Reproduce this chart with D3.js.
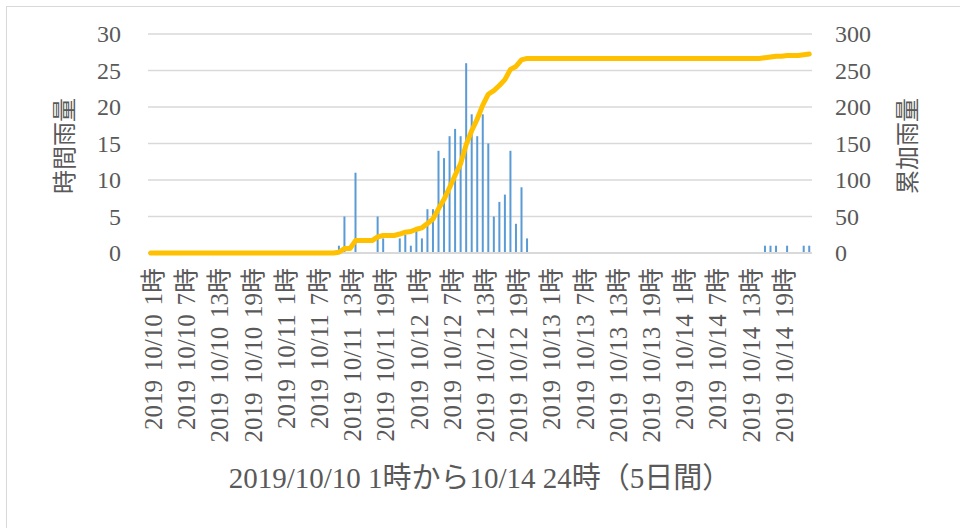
<!DOCTYPE html>
<html>
<head>
<meta charset="utf-8">
<script src="https://cdn.jsdelivr.net/npm/d3@7"></script>
<style>
  body { margin: 0; background: #fff; }
  text { font-family: "Liberation Serif", "Noto Sans CJK JP", serif; fill: #595959; }
</style>
</head>
<body>
<div id="chart"></div>
<script>
// カテゴリ（日付・時刻）
const days = ["10/10", "10/11", "10/12", "10/13", "10/14"];
const hours = d3.range(1, 25);
const categories = [];
days.forEach(d => hours.forEach(h => categories.push(`2019 ${d} ${h}時`)));

// 時間雨量 (mm)
const hourlyRain = [
  0, 0, 0, 0, 0, 0, 0, 0, 0, 0, 0, 0, 0, 0, 0, 0, 0, 0, 0, 0, 0, 0, 0, 0,
  0, 0, 0, 0, 0, 0, 0, 0, 0, 0, 1, 5, 0, 11, 0, 0, 0, 5, 2, 0, 0, 2, 2.5, 1,
  3, 2, 6, 6, 14, 13, 16, 17, 16, 26, 19, 16, 19, 15, 5, 7, 8, 14, 4, 9, 2, 0, 0, 0,
  0, 0, 0, 0, 0, 0, 0, 0, 0, 0, 0, 0, 0, 0, 0, 0, 0, 0, 0, 0, 0, 0, 0, 0,
  0, 0, 0, 0, 0, 0, 0, 0, 0, 0, 0, 0, 0, 0, 0, 1, 1, 1, 0, 1, 0, 0, 1, 1
];

// 累加雨量 (mm)
const cumulativeRain = [
  0, 0, 0, 0, 0, 0, 0, 0, 0, 0, 0, 0, 0, 0, 0, 0, 0, 0, 0, 0, 0, 0, 0, 0,
  0, 0, 0, 0, 0, 0, 0, 0, 0, 0, 1, 6, 6, 17, 17, 17, 17, 22, 24, 24, 24, 26, 28.5, 29.5,
  32.5, 34.5, 40.5, 46.5, 60.5, 73.5, 89.5, 106.5, 122.5, 148.5, 167.5, 183.5, 202.5, 217.5, 222.5, 229.5, 237.5, 251.5, 255.5, 264.5, 266.5, 266.5, 266.5, 266.5,
  266.5, 266.5, 266.5, 266.5, 266.5, 266.5, 266.5, 266.5, 266.5, 266.5, 266.5, 266.5, 266.5, 266.5, 266.5, 266.5, 266.5, 266.5, 266.5, 266.5, 266.5, 266.5, 266.5, 266.5,
  266.5, 266.5, 266.5, 266.5, 266.5, 266.5, 266.5, 266.5, 266.5, 266.5, 266.5, 266.5, 266.5, 266.5, 266.5, 267.5, 268.5, 269.5, 269.5, 270.5, 270.5, 270.5, 271.5, 272.5
];

const leftTicks = [0, 5, 10, 15, 20, 25, 30];
const rightTicks = [0, 50, 100, 150, 200, 250, 300];
const labelEvery = 6;

const W = 960, H = 528;
const plot = { left: 148, right: 812, top: 34, bottom: 253 };

const svg = d3.select("#chart").append("svg")
  .attr("width", W).attr("height", H);

// 外枠
svg.append("rect")
  .attr("x", 6.5).attr("y", 6.5)
  .attr("width", W).attr("height", H)
  .attr("fill", "none").attr("stroke", "#d9d9d9");

const x = d3.scaleBand().domain(categories).range([plot.left, plot.right]).padding(0);
const cx = c => x(c) + x.bandwidth() / 2;
const yL = d3.scaleLinear().domain([0, 30]).range([plot.bottom, plot.top]);
const yR = d3.scaleLinear().domain([0, 300]).range([plot.bottom, plot.top]);

// グリッド線
svg.append("g").selectAll("line")
  .data(leftTicks.filter(t => t > 0))
  .join("line")
  .attr("x1", plot.left).attr("x2", plot.right)
  .attr("y1", d => yL(d)).attr("y2", d => yL(d))
  .attr("stroke", "#d9d9d9").attr("stroke-width", 1.5);

// 棒（時間雨量）
const barW = 2;
svg.append("g").selectAll("rect")
  .data(hourlyRain.map((v, i) => ({ c: categories[i], v })).filter(d => d.v > 0))
  .join("rect")
  .attr("x", d => cx(d.c) - barW / 2)
  .attr("width", barW)
  .attr("y", d => yL(d.v))
  .attr("height", d => yL(0) - yL(d.v))
  .attr("fill", "#5b9bd5");

// ゼロ線
svg.append("line")
  .attr("x1", plot.left).attr("x2", plot.right)
  .attr("y1", yL(0)).attr("y2", yL(0))
  .attr("stroke", "#d9d9d9").attr("stroke-width", 2);

// 折れ線（累加雨量）
const line = d3.line()
  .x((d, i) => cx(categories[i]))
  .y(d => yR(d));
svg.append("path")
  .datum(cumulativeRain)
  .attr("d", line)
  .attr("fill", "none")
  .attr("stroke", "#ffc000")
  .attr("stroke-width", 5)
  .attr("stroke-linejoin", "round")
  .attr("stroke-linecap", "round");

// 左軸ラベル
svg.append("g").selectAll("text")
  .data(leftTicks)
  .join("text")
  .attr("x", 121).attr("y", d => yL(d))
  .attr("dy", "0.35em")
  .attr("text-anchor", "end")
  .attr("font-size", "24px")
  .text(d => d);

// 右軸ラベル
svg.append("g").selectAll("text")
  .data(rightTicks)
  .join("text")
  .attr("x", 835).attr("y", d => yR(d))
  .attr("dy", "0.35em")
  .attr("text-anchor", "start")
  .attr("font-size", "24px")
  .text(d => d);

// X軸ラベル（6時間ごと）
svg.append("g").selectAll("text")
  .data(categories.filter((c, i) => i % labelEvery === 0))
  .join("text")
  .attr("transform", d => `translate(${cx(d)},268) rotate(-90)`)
  .attr("dy", "0.45em")
  .attr("text-anchor", "end")
  .attr("font-size", "25px")
  .style("word-spacing", "0.1em")
  .text(d => d);

// 軸タイトル
svg.append("text")
  .attr("transform", "translate(65,146) rotate(-90)")
  .attr("dy", "0.35em")
  .attr("text-anchor", "middle")
  .attr("font-size", "24px")
  .text("時間雨量");

svg.append("text")
  .attr("transform", "translate(908,146) rotate(-90)")
  .attr("dy", "0.35em")
  .attr("text-anchor", "middle")
  .attr("font-size", "24px")
  .text("累加雨量");

svg.append("text")
  .attr("x", 480).attr("y", 488)
  .attr("text-anchor", "middle")
  .attr("font-size", "29px")
  .text("2019/10/10 1時から10/14 24時（5日間）");
</script>
</body>
</html>
